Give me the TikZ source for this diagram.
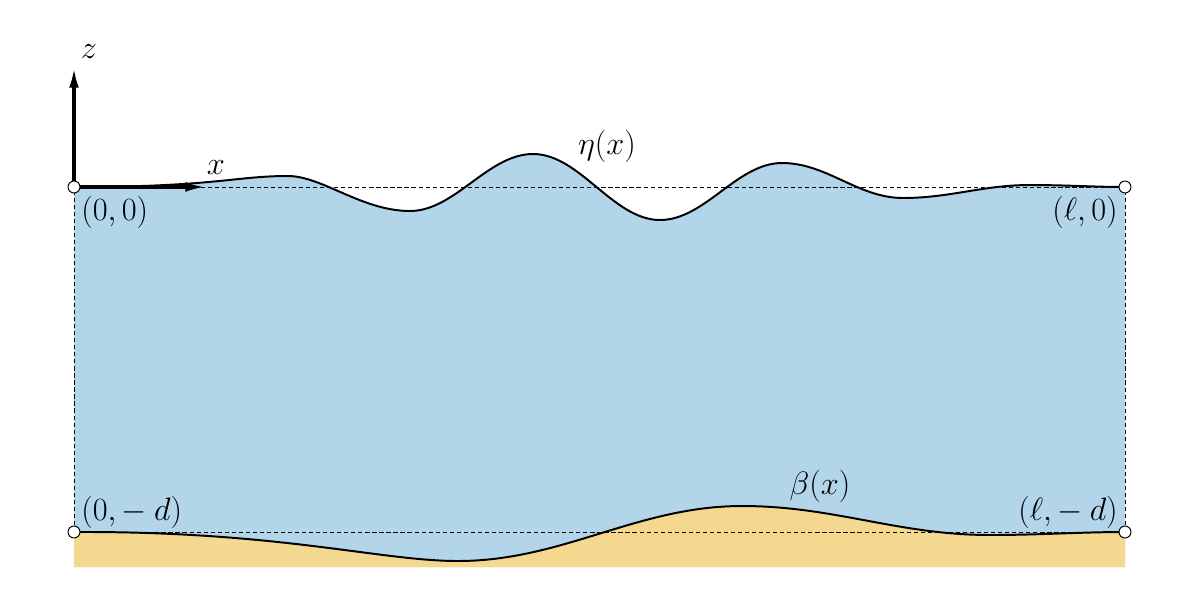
\documentclass[tikz,border=0pt]{standalone}
\usetikzlibrary{arrows.meta}
\definecolor{water}{RGB}{178,213,234}
\definecolor{sand}{RGB}{245,216,143}
\tikzset{
  dashline/.style={dash pattern=on 3pt off 2pt, line width=0.7pt},
  curve/.style={line width=1.4pt},
  axis/.style={line width=2.2pt, -{Latex[length=14pt,width=7pt]}},
  pt/.style={circle, draw, fill=white, line width=0.7pt, inner sep=0pt, minimum size=8.5pt},
  lab/.style={font=\huge, scale=1.11, inner sep=0pt}
}
\newcommand{\etacurve}{(74,187) .. controls (215,187) and (235,176) .. (288,176)
  .. controls (322,176) and (362,211) .. (410,211)
  .. controls (455,211) and (488,154) .. (533,154)
  .. controls (580,154) and (613,220) .. (660,220)
  .. controls (705,220) and (737,163) .. (782,163)
  .. controls (827,163) and (858,198) .. (903,198)
  .. controls (950,198) and (983,185) .. (1030,185)
  .. controls (1065,185) and (1095,187) .. (1125,187)}
\newcommand{\betacurve}{(74,532) .. controls (280,531) and (380,561) .. (458,561)
  .. controls (563,561) and (637,506) .. (742,506)
  .. controls (834,506) and (898,535) .. (990,535)
  .. controls (1040,535) and (1080,532) .. (1125,532)}
\begin{document}
\begin{tikzpicture}[x=0.025cm,y=-0.025cm]
\useasboundingbox (0,0) rectangle (1200,600);
\coordinate (O) at (74,187);
\coordinate (L) at (1125,187);
\coordinate (Od) at (74,532);
\coordinate (Ld) at (1125,532);
\coordinate (zt) at (74,68);
\coordinate (xt) at (205,187);
% water and sand
\fill[water] \etacurve -- (1125,567) -- (74,567) -- cycle;
\fill[sand] \betacurve -- (1125,567) -- (74,567) -- cycle;
% dashed frame
\draw[dashline] (O) -- (L) -- (Ld) -- (Od) -- cycle;
% curves
\draw[curve] \etacurve;
\draw[curve] \betacurve;
% axes
\draw[axis] (O) -- (zt);
\draw[axis] (O) -- (xt);
% points
\node[pt] (pO) at (O) {};
\node[pt] (pL) at (L) {};
\node[pt] (pOd) at (Od) {};
\node[pt] (pLd) at (Ld) {};
% labels
\node[lab] (lz) at (89,52) {$z$};
\node[lab] (lx) at (216,168) {$x$};
\node[lab] (leta) at (607,146) {$\eta(x)$};
\node[lab, anchor=west] (l00) at (81,212) {$(0,0)$};
\node[lab, anchor=east] (ll0) at (1118,212) {$(\ell,0)$};
\node[lab, anchor=west] (l0d) at (81,512) {$(0,-\:d)$};
\node[lab, anchor=east] (lld) at (1118,512) {$(\ell,-\:d)$};
\node[lab] (lbeta) at (820,486) {$\beta(x)$};
\end{tikzpicture}
\end{document}
